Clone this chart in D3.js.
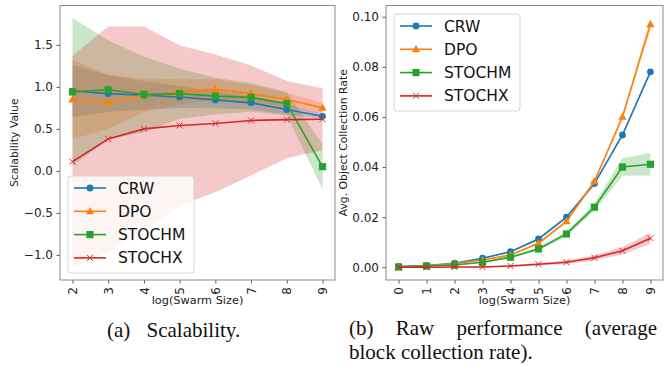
<!DOCTYPE html>
<html>
<head>
<meta charset="utf-8">
<script src="https://cdn.jsdelivr.net/npm/d3@7"></script>
<style>
    body { margin: 0; background: #fff; }
    svg { display: block; }
</style>
</head>
<body>
<svg id="chart" width="667" height="365"></svg>
<script>
// --- data ---
var names = ["CRW", "DPO", "STOCHM", "STOCHX"];
var colors = ["#1f77b4", "#ff7f0e", "#2ca02c", "#d62728"];
var markers = ["circle", "triangle", "square", "cross"];

// (a) scalability, x = log(swarm size)
var sizesA = [2, 3, 4, 5, 6, 7, 8, 9];
var scalCRW = [0.95, 0.92, 0.90, 0.88, 0.845, 0.81, 0.73, 0.65];
var scalCRWErr = [0.31, 0.22, 0.17, 0.13, 0.10, 0.08, 0.06, 0.03];
var scalDPO = [0.85, 0.82, 0.90, 0.94, 0.97, 0.92, 0.85, 0.75];
var scalDPOErr = [0.47, 0.32, 0.20, 0.15, 0.12, 0.10, 0.08, 0.06];
var scalSTOCHM = [0.94, 0.965, 0.91, 0.92, 0.89, 0.875, 0.80, 0.05];
var scalSTOCHMErr = [0.88, 0.59, 0.45, 0.30, 0.22, 0.17, 0.14, 0.265];
var scalSTOCHX = [0.11, 0.38, 0.50, 0.54, 0.565, 0.60, 0.61, 0.615];
var scalSTOCHXErr = [1.26, 1.34, 1.22, 0.955, 0.82, 0.655, 0.46, 0.37];
var ticksA_y = [-1.0, -0.5, 0.0, 0.5, 1.0, 1.5];

// (b) raw performance
var sizesB = [0, 1, 2, 3, 4, 5, 6, 7, 8, 9];
var rateCRW = [0.0003, 0.0007, 0.0016, 0.0036, 0.0062, 0.0113, 0.0200, 0.0334, 0.0528, 0.0780];
var rateCRWErr = [0.0001, 0.0001, 0.0001, 0.0002, 0.0003, 0.0004, 0.0005, 0.0006, 0.0007, 0.0008];
var rateDPO = [0.0001, 0.0006, 0.0014, 0.0029, 0.0049, 0.0096, 0.0183, 0.0343, 0.0600, 0.0970];
var rateDPOErr = [0.0001, 0.0001, 0.0001, 0.0002, 0.0003, 0.0004, 0.0006, 0.0008, 0.0010, 0.0025];
var rateSTOCHM = [0.0001, 0.0005, 0.0009, 0.0020, 0.0040, 0.0073, 0.0133, 0.0240, 0.0400, 0.0411];
var rateSTOCHMErr = [0.0001, 0.0001, 0.0002, 0.0003, 0.0004, 0.0006, 0.0010, 0.0015, 0.0035, 0.0045];
var rateSTOCHX = [0.0000, 0.0000, 0.0001, 0.0001, 0.0005, 0.0012, 0.0020, 0.0038, 0.0066, 0.0116];
var rateSTOCHXErr = [0.0001, 0.0001, 0.0001, 0.0002, 0.0003, 0.0005, 0.0007, 0.0010, 0.0015, 0.0022];
var ticksB_y = [0.00, 0.02, 0.04, 0.06, 0.08, 0.10];

var svg = d3.select("#chart");
var FONT = "DejaVu Sans, sans-serif";

// matplotlib-like padded domain
function padded(lo, hi) {
    var m = (hi - lo) * 0.05;
    return [lo - m, hi + m];
}

function drawMarker(g, type, x, y, color) {
    if (type === "circle") {
        g.append("circle").attr("cx", x).attr("cy", y).attr("r", 3.4).attr("fill", color);
    } else if (type === "triangle") {
        g.append("path").attr("d", d3.symbol(d3.symbolTriangle, 30)()).attr("transform", "translate(" + x + "," + (y + 0.5) + ")").attr("fill", color);
    } else if (type === "square") {
        g.append("rect").attr("x", x - 3.6).attr("y", y - 3.6).attr("width", 7.2).attr("height", 7.2).attr("fill", color);
    } else {
        g.append("path").attr("d", "M" + (x - 3) + "," + (y - 3) + "L" + (x + 3) + "," + (y + 3) + "M" + (x - 3) + "," + (y + 3) + "L" + (x + 3) + "," + (y - 3))
            .attr("stroke", color).attr("stroke-width", 1).attr("fill", "none");
    }
}

function drawPanel(opt) {
    var g = svg.append("g");
    var allLo = [], allHi = [];
    opt.means.forEach(function(m, i) {
        m.forEach(function(v, j) {
            allLo.push(v - opt.errs[i][j]);
            allHi.push(v + opt.errs[i][j]);
        });
    });
    var x = d3.scaleLinear().domain(padded(d3.min(opt.xs), d3.max(opt.xs))).range([opt.left, opt.right]);
    var y = d3.scaleLinear().domain(padded(d3.min(allLo), d3.max(allHi))).range([opt.bottom, opt.top]);

    // bands
    opt.means.forEach(function(m, i) {
        var area = d3.area()
            .x(function(d, j) { return x(opt.xs[j]); })
            .y0(function(d, j) { return y(d - opt.errs[i][j]); })
            .y1(function(d, j) { return y(d + opt.errs[i][j]); });
        g.append("path").attr("d", area(m)).attr("fill", colors[i]).attr("fill-opacity", 0.25);
    });

    // lines + markers
    opt.means.forEach(function(m, i) {
        var line = d3.line()
            .x(function(d, j) { return x(opt.xs[j]); })
            .y(function(d) { return y(d); });
        g.append("path").attr("d", line(m)).attr("fill", "none").attr("stroke", colors[i]).attr("stroke-width", 1.6);
        m.forEach(function(d, j) {
            drawMarker(g, markers[i], x(opt.xs[j]), y(d), colors[i]);
        });
    });

    // axes
    var yAxis = d3.axisLeft(y).tickValues(opt.yticks).tickFormat(d3.format(opt.yfmt)).tickSize(3.5).tickPadding(3.5);
    var ya = g.append("g").attr("transform", "translate(" + opt.left + ",0)").call(yAxis);
    ya.select(".domain").remove();
    ya.selectAll("text").attr("font-family", FONT).attr("font-size", 12).attr("fill", "#222");
    ya.selectAll("line").attr("stroke", "#555");

    var xAxis = d3.axisBottom(x).tickValues(opt.xs).tickFormat(d3.format("d")).tickSize(3.5).tickPadding(3.5);
    var xa = g.append("g").attr("transform", "translate(0," + opt.bottom + ")").call(xAxis);
    xa.select(".domain").remove();
    xa.selectAll("line").attr("stroke", "#555");
    xa.selectAll("text")
        .attr("font-family", FONT).attr("font-size", 12).attr("fill", "#222")
        .attr("text-anchor", "end").attr("y", 0).attr("dy", "0.35em")
        .attr("transform", "translate(0,7) rotate(-90)");

    g.append("rect")
        .attr("x", opt.left).attr("y", opt.top)
        .attr("width", opt.right - opt.left).attr("height", opt.bottom - opt.top)
        .attr("fill", "none").attr("stroke", "#8a8a8a").attr("stroke-width", 1);

    // axis labels
    g.append("text").text("log(Swarm Size)")
        .attr("x", (opt.left + opt.right) / 2).attr("y", 303.5)
        .attr("text-anchor", "middle").attr("font-family", FONT).attr("font-size", 11.3).attr("fill", "#222");
    g.append("text").text(opt.ylabel)
        .attr("transform", "translate(" + opt.ylabelX + "," + ((opt.top + opt.bottom) / 2) + ") rotate(-90)")
        .attr("text-anchor", "middle").attr("font-family", FONT).attr("font-size", 10.8).attr("fill", "#222");

    // legend
    var lg = g.append("g");
    lg.append("rect")
        .attr("x", opt.legX).attr("y", opt.legY).attr("width", 126).attr("height", 97).attr("rx", 3)
        .attr("fill", "#fff").attr("fill-opacity", 0.8).attr("stroke", "#d4d4d4");
    names.forEach(function(n, i) {
        var ry = opt.legY + 12 + i * 23.3;
        lg.append("line").attr("x1", opt.legX + 6).attr("x2", opt.legX + 38).attr("y1", ry).attr("y2", ry)
            .attr("stroke", colors[i]).attr("stroke-width", 1.6);
        drawMarker(lg, markers[i], opt.legX + 22, ry, colors[i]);
        lg.append("text").text(n)
            .attr("x", opt.legX + 50).attr("y", ry).attr("dy", "0.36em")
            .attr("font-family", FONT).attr("font-size", 15.5).attr("fill", "#111");
    });
}

drawPanel({
    xs: sizesA,
    means: [scalCRW, scalDPO, scalSTOCHM, scalSTOCHX],
    errs: [scalCRWErr, scalDPOErr, scalSTOCHMErr, scalSTOCHXErr],
    yticks: ticksA_y, yfmt: ".1f",
    left: 60, right: 335, top: 5.5, bottom: 280,
    ylabel: "Scalability Value", ylabelX: 18,
    legX: 68, legY: 176
});

drawPanel({
    xs: sizesB,
    means: [rateCRW, rateDPO, rateSTOCHM, rateSTOCHX],
    errs: [rateCRWErr, rateDPOErr, rateSTOCHMErr, rateSTOCHXErr],
    yticks: ticksB_y, yfmt: ".2f",
    left: 386, right: 663, top: 5.5, bottom: 280,
    ylabel: "Avg. Object Collection Rate", ylabelX: 347,
    legX: 394, legY: 14
});

// captions (LaTeX subfigure style)
var SERIF = "Liberation Serif, Times New Roman, serif";
svg.append("text").text("(a)").attr("x", 107).attr("y", 337)
    .attr("font-family", SERIF).attr("font-size", 21).attr("fill", "#111");
svg.append("text").text("Scalability.").attr("x", 146.5).attr("y", 337)
    .attr("font-family", SERIF).attr("font-size", 21).attr("fill", "#111");

// justified first line of (b)
var capWords = ["(b)", "Raw", "performance", "(average"];
var capLeft = 349, capRight = 657;
var nodes = capWords.map(function(w) {
    return svg.append("text").text(w).attr("y", 335)
        .attr("font-family", SERIF).attr("font-size", 21).attr("fill", "#111");
});
var widths = nodes.map(function(t) { return t.node().getComputedTextLength(); });
var gap = (capRight - capLeft - d3.sum(widths)) / (capWords.length - 1);
var cx = capLeft;
nodes.forEach(function(t, i) {
    t.attr("x", cx);
    cx += widths[i] + gap;
});
svg.append("text").text("block collection rate).").attr("x", capLeft).attr("y", 359)
    .attr("font-family", SERIF).attr("font-size", 21).attr("fill", "#111");
</script>
</body>
</html>
